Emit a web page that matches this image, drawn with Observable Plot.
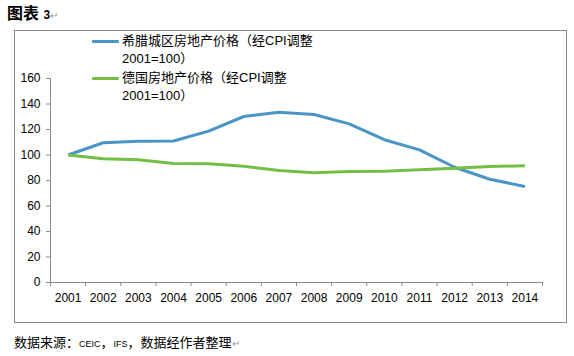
<!DOCTYPE html>
<html>
<head>
<meta charset="utf-8">
<script src="https://cdn.jsdelivr.net/npm/d3@7"></script>
<script src="https://cdn.jsdelivr.net/npm/@observablehq/plot@0.6"></script>
<style>
  html, body { margin: 0; padding: 0; background: #fff; }
  #wrap { position: relative; width: 574px; height: 356px; overflow: hidden; font-family: "Liberation Sans", Arial, "Noto Sans CJK SC", sans-serif; color: #000; }
  #chart { position: absolute; left: 0; top: 0; }
  .abs { position: absolute; white-space: nowrap; }
  #frame { position: absolute; left: 14px; top: 30px; width: 553px; height: 293px; border: 1px solid #8a8a8a; box-sizing: border-box; pointer-events: none; }
  .cjk { font-family: "Liberation Sans", Arial, "Noto Sans CJK SC", sans-serif; }
  .ret { color: #9a9a9a; font-size: 10px; font-weight: normal; letter-spacing: 0; }
  .sw { position: absolute; height: 3px; width: 27px; border-radius: 1px; }
</style>
</head>
<body>
<div id="wrap">
  <div id="chart"></div>
  <div id="frame"></div>
  <div class="abs cjk" style="left:7px; top:4px; font-size:16px; font-weight:bold; line-height:20px;">图表 <span style="font-size:12px;">3</span><span class="ret">↵</span></div>
  <div class="sw" id="sw1" style="left:92px; top:40px;"></div>
  <div class="abs cjk" id="lg1" style="left:122px; top:32px; font-size:13px; line-height:18px;"></div>
  <div class="sw" id="sw2" style="left:92px; top:77px;"></div>
  <div class="abs cjk" id="lg2" style="left:122px; top:69px; font-size:13px; line-height:18px;"></div>
  <div class="abs cjk" id="cap" style="left:14px; top:335px; font-size:13px; line-height:16px;"></div>
</div>
<script>
const years = [2001, 2002, 2003, 2004, 2005, 2006, 2007, 2008, 2009, 2010, 2011, 2012, 2013, 2014];
const greece = [100, 109.6, 110.8, 111, 118.7, 130.2, 133.6, 131.8, 124.4, 112, 104, 90.4, 81, 75.3];
const germany = [100, 97, 96.2, 93.3, 93.1, 91.2, 87.8, 86, 87, 87.3, 88.4, 89.6, 91, 91.5];
const yTicks = [0, 20, 40, 60, 80, 100, 120, 140, 160];
const seriesNames = ["希腊城区房地产价格（经CPI调整", "德国房地产价格（经CPI调整"];
const seriesNote = "2001=100）";
const colors = ["#4a94c6", "#72bf44"];

const rows = [];
years.forEach((yr, i) => {
  rows.push({year: yr, value: greece[i], s: seriesNames[0]});
  rows.push({year: yr, value: germany[i], s: seriesNames[1]});
});
const bounds = years.map(y => y - 0.5).concat([years[years.length - 1] + 0.5]);
const axisGrey = "#8a8a8a";

const plot = Plot.plot({
  width: 574,
  height: 356,
  marginLeft: 50,
  marginRight: 32,
  marginTop: 78,
  marginBottom: 74,
  style: {fontFamily: "'Liberation Sans', Arial, sans-serif", fontSize: "12px", color: "#000", background: "transparent"},
  x: {domain: [bounds[0], bounds[bounds.length - 1]]},
  y: {domain: [0, 160]},
  marks: [
    Plot.ruleX([bounds[0]], {y1: 0, y2: 160, stroke: axisGrey}),
    Plot.ruleY([0], {stroke: axisGrey}),
    Plot.axisY({ticks: yTicks, tickSize: 4, tickPadding: 6, stroke: axisGrey, fontSize: 12, label: null}),
    Plot.axisX({ticks: bounds, tickSize: 4, tickFormat: () => "", stroke: axisGrey, label: null}),
    Plot.axisX({ticks: years, tickSize: 0, tickPadding: 11, tickFormat: d => String(d), fontSize: 12, label: null}),
    Plot.lineY(rows, {x: "year", y: "value", z: "s", stroke: d => d.s === seriesNames[0] ? colors[0] : colors[1], strokeWidth: 3, strokeLinejoin: "round", strokeLinecap: "butt"})
  ]
});
document.getElementById("chart").appendChild(plot);

document.getElementById("sw1").style.background = colors[0];
document.getElementById("sw2").style.background = colors[1];
document.getElementById("lg1").innerHTML = seriesNames[0] + "<br>" + seriesNote;
document.getElementById("lg2").innerHTML = seriesNames[1] + "<br>" + seriesNote;
document.getElementById("cap").innerHTML = '数据来源：<span style="font-size:9px;">CEIC</span>，<span style="font-size:9px;">IFS</span>，数据经作者整理<span class="ret">↵</span>';
</script>
</body>
</html>
